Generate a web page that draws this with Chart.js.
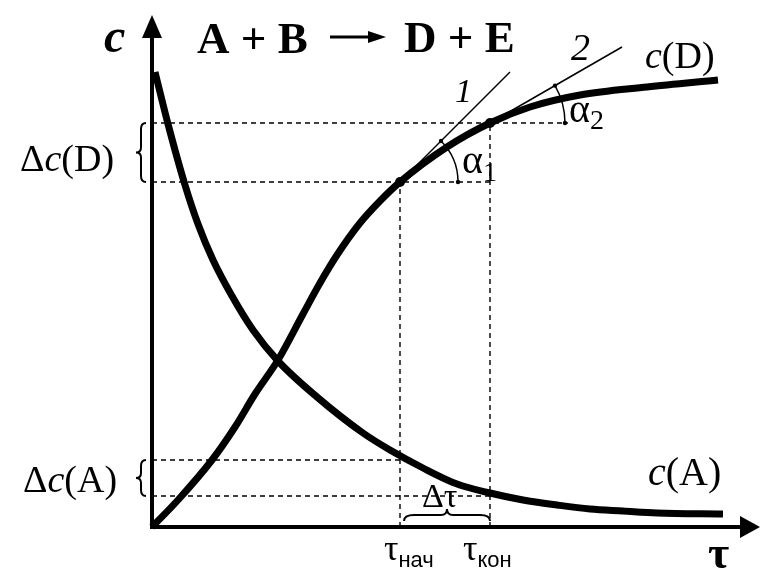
<!DOCTYPE html>
<html><head><meta charset="utf-8">
<script src="https://cdn.jsdelivr.net/npm/chart.js@4.4.1/dist/chart.umd.min.js"></script>
<style>html,body{margin:0;padding:0;background:#fff;}canvas{display:block;}</style>
</head><body>
<canvas id="c" width="770" height="588"></canvas>
<script>
// ---- data (τ and c in arbitrary units) ----
const tauA  = [0.6, 3.2, 6.6, 9.2, 12.2, 16, 20.2, 25.2, 33, 42.2, 47.6, 54.2, 61, 67.6, 74.2, 81, 87.6, 94.2, 101, 114.2];
const concA = [91, 80.6, 68.4, 60.6, 53.4, 46.2, 39.4, 33.2, 26, 18.8, 15.4, 11.8, 8.6, 6.8, 5.4, 4.4, 3.6, 3.2, 2.8, 2.6];
const tauD  = [0, 5.2, 12, 16.6, 20.6, 25.2, 30.2, 33.6, 37, 41.6, 45.6, 49.6, 59, 67.6, 75.6, 85.6, 99, 113.2];
const concD = [0, 5.4, 13.4, 20, 26.6, 33.4, 42.6, 48.8, 54.4, 60.8, 65.2, 69, 76, 80.8, 84, 86.4, 88, 89.4];
const tauMarks = [49.6, 67.6];      // τнач, τкон
const cDMarks  = [69, 80.8];        // c(D) at τнач, τкон
const cAMarks  = [13.4, 6.2];       // c(A) at τнач, τкон
const tangent1X = [49.6, 71.6], tangent1Y = [69, 91];
const tangent2X = [67.6, 94],   tangent2Y = [80.8, 96];
const dashEndX = [83.2, 67.6];      // extent of the Δc(D) dashed lines (top, bottom)
const X_MAX = 120, Y_MAX = 102;

const zip = (xs, ys) => xs.map((x, i) => ({x, y: ys[i]}));
const dashed = (pts) => ({data: pts, showLine: true, borderColor: '#000', borderWidth: 1.4,
  borderDash: [5, 4], pointRadius: 0, clip: false, order: 5});
const curve = (pts) => ({data: pts, showLine: true, borderColor: '#000', borderWidth: 7,
  pointRadius: 0, cubicInterpolationMode: 'monotone', clip: false, borderCapStyle: 'butt', order: 1});
const thin = (pts) => ({data: pts, showLine: true, borderColor: '#000', borderWidth: 1.5,
  pointRadius: 0, clip: false, order: 2});

const datasets = [
  curve(zip(tauA, concA)),
  curve(zip(tauD, concD)),
  thin(zip(tangent1X, tangent1Y)),
  thin(zip(tangent2X, tangent2Y)),
  dashed([{x: 0, y: cDMarks[1]}, {x: dashEndX[0], y: cDMarks[1]}]),
  dashed([{x: 0, y: cDMarks[0]}, {x: dashEndX[1], y: cDMarks[0]}]),
  dashed([{x: 0, y: cAMarks[0]}, {x: tauMarks[0], y: cAMarks[0]}]),
  dashed([{x: 0, y: cAMarks[1]}, {x: tauMarks[1], y: cAMarks[1]}]),
  dashed([{x: tauMarks[0], y: 0}, {x: tauMarks[0], y: cDMarks[0]}]),
  dashed([{x: tauMarks[1], y: 0}, {x: tauMarks[1], y: cDMarks[1]}]),
  {data: zip(tauMarks, cDMarks), showLine: false, pointRadius: 5, pointBackgroundColor: '#000',
   pointBorderWidth: 0, clip: false, order: 0}
];

const SERIF = '"Liberation Serif", "DejaVu Serif", serif';
const SANS = '"Liberation Sans", "DejaVu Sans", sans-serif';

function rich(ctx, x, y, parts) {
  for (const p of parts) {
    ctx.font = p.f;
    ctx.fillText(p.t, x, y + (p.dy || 0));
    x += ctx.measureText(p.t).width + (p.dx || 0);
  }
}
function vBrace(ctx, x, y1, y2) {
  const m = (y1 + y2) / 2, w = 5;
  ctx.beginPath();
  ctx.moveTo(x + w, y1);
  ctx.quadraticCurveTo(x, y1, x, y1 + 6);
  ctx.lineTo(x, m - 5);
  ctx.quadraticCurveTo(x, m, x - w, m);
  ctx.quadraticCurveTo(x, m, x, m + 5);
  ctx.lineTo(x, y2 - 6);
  ctx.quadraticCurveTo(x, y2, x + w, y2);
  ctx.stroke();
}
function hBrace(ctx, x1, x2, y) {
  const m = (x1 + x2) / 2, h = 6;
  ctx.beginPath();
  ctx.moveTo(x1, y);
  ctx.quadraticCurveTo(x1, y - h, x1 + 10, y - h);
  ctx.lineTo(m - 6, y - h);
  ctx.quadraticCurveTo(m, y - h, m, y - 2 * h);
  ctx.quadraticCurveTo(m, y - h, m + 6, y - h);
  ctx.lineTo(x2 - 10, y - h);
  ctx.quadraticCurveTo(x2, y - h, x2, y);
  ctx.stroke();
}

const decor = {
  id: 'decor',
  afterDatasetsDraw(chart) {
    const ctx = chart.ctx, sx = chart.scales.x, sy = chart.scales.y;
    const X = v => sx.getPixelForValue(v), Y = v => sy.getPixelForValue(v);
    const x0 = X(0), y0 = Y(0);
    ctx.save();
    ctx.fillStyle = '#000'; ctx.strokeStyle = '#000';
    // axes
    ctx.lineWidth = 4;
    ctx.beginPath(); ctx.moveTo(x0, y0 + 2); ctx.lineTo(x0, 34); ctx.stroke();
    ctx.beginPath(); ctx.moveTo(x0 - 2, y0); ctx.lineTo(744, y0); ctx.stroke();
    ctx.beginPath(); ctx.moveTo(x0, 15); ctx.lineTo(x0 - 10, 38); ctx.lineTo(x0 + 10, 38); ctx.closePath(); ctx.fill();
    ctx.beginPath(); ctx.moveTo(760, y0); ctx.lineTo(740, y0 - 11); ctx.lineTo(740, y0 + 11); ctx.closePath(); ctx.fill();

    // angle arcs
    ctx.lineWidth = 1.5;
    const arcs = [[tangent1X, tangent1Y, 58], [tangent2X, tangent2Y, 75]];
    for (const [tx, ty, r] of arcs) {
      const cx = X(tx[0]), cy = Y(ty[0]);
      const ang = Math.atan2(Y(ty[0]) - Y(ty[1]), X(tx[1]) - X(tx[0]));
      ctx.beginPath(); ctx.arc(cx, cy, r, -ang, 0); ctx.stroke();
      ctx.beginPath(); ctx.arc(cx + r, cy, 2.2, 0, 2 * Math.PI); ctx.fill();
      ctx.beginPath(); ctx.arc(cx + r * Math.cos(ang), cy - r * Math.sin(ang), 2.2, 0, 2 * Math.PI); ctx.fill();
    }

    // braces
    ctx.lineWidth = 2;
    vBrace(ctx, 141, Y(cDMarks[1]), Y(cDMarks[0]));
    vBrace(ctx, 141, Y(cAMarks[0]), Y(cAMarks[1]));
    hBrace(ctx, X(tauMarks[0]) + 4, X(tauMarks[1]), y0 - 6);

    // title
    ctx.textBaseline = 'alphabetic';
    rich(ctx, 197, 53, [{t: 'A + B', f: 'bold 45px ' + SERIF}]);
    ctx.lineWidth = 3;
    ctx.beginPath(); ctx.moveTo(330, 37); ctx.lineTo(372, 37); ctx.stroke();
    ctx.beginPath(); ctx.moveTo(386, 37); ctx.lineTo(368, 31); ctx.lineTo(368, 43); ctx.closePath(); ctx.fill();
    rich(ctx, 404, 52, [{t: 'D + E', f: 'bold 45px ' + SERIF}]);

    // axis labels
    rich(ctx, 104, 52, [{t: 'c', f: 'italic bold 48px ' + SERIF}]);
    rich(ctx, 708, 568, [{t: 'τ', f: 'bold 46px ' + SERIF}]);

    // Δ labels
    rich(ctx, 20, 171, [{t: 'Δ', f: '38px ' + SERIF}, {t: 'c', f: 'italic 38px ' + SERIF}, {t: '(D)', f: '38px ' + SERIF}]);
    rich(ctx, 23, 492, [{t: 'Δ', f: '38px ' + SERIF}, {t: 'c', f: 'italic 38px ' + SERIF}, {t: '(A)', f: '38px ' + SERIF}]);

    // curve labels
    rich(ctx, 645, 68, [{t: 'c', f: 'italic 38px ' + SERIF}, {t: '(D)', f: '38px ' + SERIF}]);
    rich(ctx, 648, 485, [{t: 'c', f: 'italic 40px ' + SERIF}, {t: '(A)', f: '40px ' + SERIF}]);

    // tangent numbers
    rich(ctx, 455, 102, [{t: '1', f: 'italic 34px ' + SERIF}]);
    rich(ctx, 571, 60, [{t: '2', f: 'italic 38px ' + SERIF}]);

    // angles
    rich(ctx, 462, 173, [{t: 'α', f: '40px ' + SERIF}, {t: '1', f: '28px ' + SERIF, dy: 8}]);
    rich(ctx, 569, 122, [{t: 'α', f: '40px ' + SERIF}, {t: '2', f: '28px ' + SERIF, dy: 7}]);

    // Δτ and τ ticks
    rich(ctx, 422, 507, [{t: 'Δτ', f: '34px ' + SERIF}]);
    rich(ctx, 384, 560, [{t: 'τ', f: '36px ' + SERIF}, {t: 'нач', f: '22px ' + SANS, dy: 7}]);
    rich(ctx, 463, 560, [{t: 'τ', f: '36px ' + SERIF}, {t: 'кон', f: '22px ' + SANS, dy: 7}]);
    ctx.restore();
  }
};

new Chart(document.getElementById('c'), {
  type: 'scatter',
  data: {datasets},
  options: {
    responsive: false, animation: false, events: [],
    layout: {padding: {left: 152, right: 18, top: 17, bottom: 61}},
    scales: {
      x: {type: 'linear', min: 0, max: X_MAX, display: false},
      y: {type: 'linear', min: 0, max: Y_MAX, display: false}
    },
    plugins: {legend: {display: false}, tooltip: {enabled: false}, title: {display: false}}
  },
  plugins: [decor]
});
</script>
</body></html>
